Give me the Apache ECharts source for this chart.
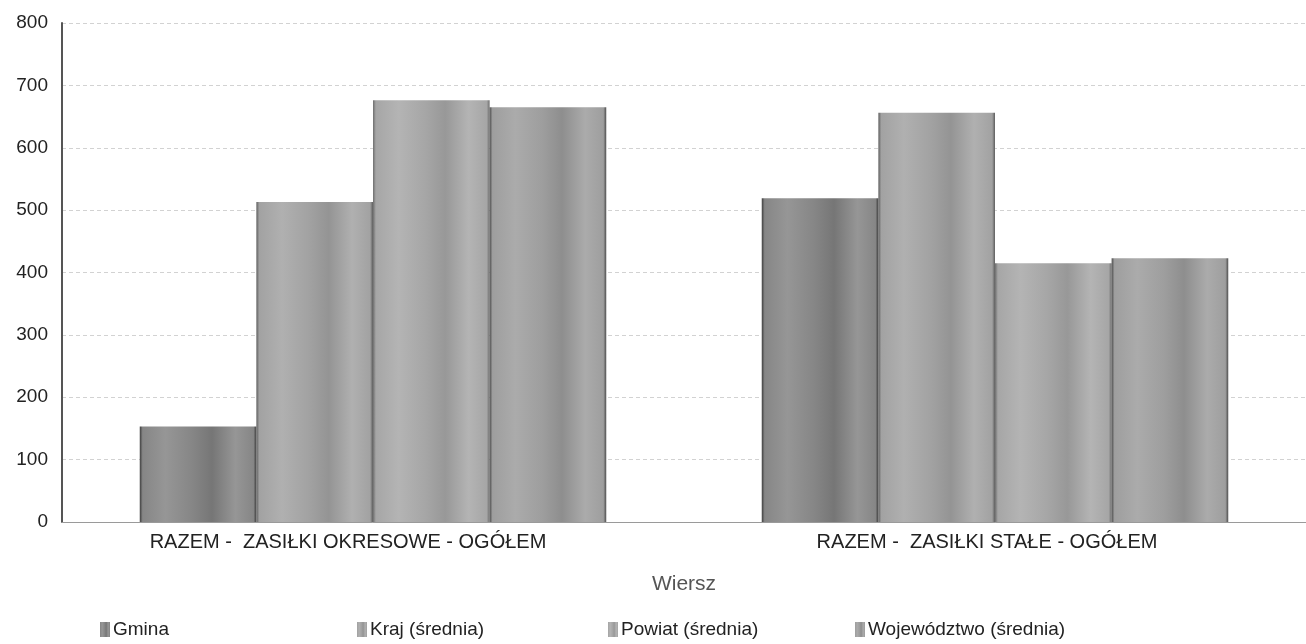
<!DOCTYPE html>
<html>
<head>
<meta charset="utf-8">
<script src="https://cdn.jsdelivr.net/npm/echarts@6/dist/echarts.min.js"></script>
<style>
  html, body { margin: 0; padding: 0; background: #ffffff; }
  #chart { width: 1306px; height: 644px; }
</style>
</head>
<body>
<div id="chart"></div>
<script>
// Categories (rows) and series values
const categories = ['RAZEM -  ZASIŁKI OKRESOWE - OGÓŁEM', 'RAZEM -  ZASIŁKI STAŁE - OGÓŁEM'];
const seriesNames = ['Gmina', 'Kraj (średnia)', 'Powiat (średnia)', 'Województwo (średnia)'];
const gmina = [153, 519];
const kraj = [513, 656];
const powiat = [676, 415];
const wojewodztwo = [665, 423];
const yTicks = [0, 100, 200, 300, 400, 500, 600, 700, 800];

const seriesValues = [gmina, kraj, powiat, wojewodztwo];

// Category labels sit slightly left of their bar groups
const labelShift = [50, 16];

// Cylinder-like vertical banding for each bar
function band(edge, light, mid, dark) {
  return new echarts.graphic.LinearGradient(0, 0, 1, 0, [
    { offset: 0, color: edge },
    { offset: 0.025, color: mid },
    { offset: 0.22, color: light },
    { offset: 0.45, color: mid },
    { offset: 0.62, color: dark },
    { offset: 0.82, color: light },
    { offset: 0.975, color: mid },
    { offset: 1, color: edge }
  ]);
}
const fills = [
  band('#3e3e3e', '#969696', '#868686', '#767676'),
  band('#5e5e5e', '#b0b0b0', '#a2a2a2', '#949494'),
  band('#6e6e6e', '#b4b4b4', '#a6a6a6', '#989898'),
  band('#4e4e4e', '#ababab', '#9e9e9e', '#8e8e8e')
];

const legendLefts = [95, 352, 603, 850];

const chart = echarts.init(document.getElementById('chart'), null, { renderer: 'canvas' });

chart.setOption({
  backgroundColor: '#ffffff',
  animation: false,
  textStyle: { fontFamily: 'Liberation Sans, Arial, sans-serif' },
  grid: { left: 62, right: -6, top: 23, bottom: 122, containLabel: false },
  legend: seriesNames.map((name, i) => ({
    data: [name],
    left: legendLefts[i],
    top: 615,
    itemWidth: 10,
    itemHeight: 15,
    itemGap: 0,
    icon: 'rect',
    textStyle: { fontSize: 19, color: '#222', padding: [0, 0, 0, -2] }
  })),
  xAxis: {
    type: 'category',
    data: categories.map((c, i) => ({
      value: c,
      textStyle: { padding: [0, labelShift[i], 0, 0] }
    })),
    name: 'Wiersz',
    nameLocation: 'middle',
    nameGap: 52,
    nameTextStyle: { fontSize: 21, color: '#555' },
    axisLine: { show: true, lineStyle: { color: '#9a9a9a', width: 1 } },
    axisTick: { show: false },
    axisLabel: { fontSize: 20, color: '#222', margin: 10, interval: 0 }
  },
  yAxis: {
    type: 'value',
    min: yTicks[0],
    max: yTicks[yTicks.length - 1],
    interval: 100,
    axisLine: { show: true, lineStyle: { color: '#555', width: 2 } },
    axisTick: { show: false },
    axisLabel: { fontSize: 19, color: '#222', margin: 14 },
    splitLine: { show: true, lineStyle: { color: '#d2d2d2', width: 1, type: [4, 3] } }
  },
  series: seriesNames.map((name, i) => ({
    name: name,
    type: 'bar',
    data: seriesValues[i],
    barGap: '0%',
    barCategoryGap: '25%',
    itemStyle: { color: fills[i] }
  }))
});
</script>
</body>
</html>
